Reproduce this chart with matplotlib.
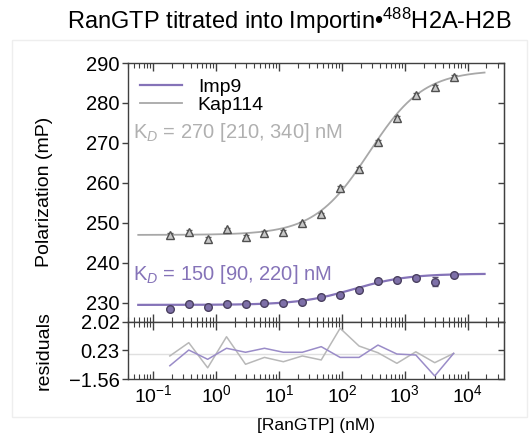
import matplotlib
matplotlib.use('Agg')
import matplotlib.pyplot as plt
import matplotlib.ticker as mticker
from matplotlib.patches import Rectangle
import numpy as np

plt.rcParams['font.family'] = ['Liberation Sans', 'DejaVu Sans']
plt.rcParams['mathtext.fontset'] = 'custom'
plt.rcParams['mathtext.rm'] = 'Liberation Sans'
plt.rcParams['mathtext.it'] = 'Liberation Sans:italic'

# concentraciones de RanGTP (nM), diluciones 1:2
ran_nm = [0.183, 0.366, 0.732, 1.46, 2.93, 5.86, 11.72, 23.44,
          46.88, 93.75, 187.5, 375, 750, 1500, 3000, 6000]

# polarizacion medida (mP)
kap114_mp = [247.0, 247.8, 246.0, 248.4, 246.6, 247.6, 247.8, 249.9,
             252.2, 258.7, 263.5, 270.3, 276.3, 282.0, 284.1, 286.6]
kap114_err = [0.4, 0.4, 0.6, 0.4, 0.5, 0.4, 0.4, 0.4,
              0.4, 0.5, 0.4, 0.4, 0.4, 0.4, 0.4, 0.4]
imp9_mp = [228.5, 229.6, 229.0, 229.8, 229.6, 230.0, 229.9, 230.3,
           231.5, 232.0, 233.2, 235.5, 235.7, 236.3, 235.3, 237.0]
imp9_err = [0.4, 0.4, 0.4, 0.4, 0.4, 0.4, 0.4, 0.4,
            0.5, 0.4, 0.4, 0.4, 0.4, 0.4, 1.2, 0.4]

# residuos del ajuste
kap114_res = [-0.12, 0.71, -0.86, 1.08, -0.64, -0.21, -0.48, -0.12,
              -0.37, 1.61, 0.50, 0.08, -0.58, 0.14, -0.54, 0.04]
imp9_res = [-0.73, 0.25, -0.33, 0.36, 0.11, 0.36, 0.11, 0.11,
            0.46, -0.21, -0.21, 0.56, 0.00, -0.06, -1.37, 0.04]

# parametros de ajuste (fondo, tope, Kd)
kap114_fit = (247.0, 288.2, 270.0)
imp9_fit = (229.5, 237.3, 150.0)

purple = '#8573b8'
gray = '#a8a8a8'


def curva(x, fondo, tope, kd):
    return fondo + (tope - fondo) * x / (kd + x)


fig = plt.figure(figsize=(5.32, 4.36), dpi=100)
fig.patches.append(Rectangle((12 / 532, 1 - 417 / 436), 515 / 532, 377 / 436,
                             transform=fig.transFigure, fill=False,
                             edgecolor='#eeeeee', linewidth=1))

ax1 = fig.add_axes([0.2406, 0.2622, 0.7068, 0.5933])
ax2 = fig.add_axes([0.2406, 0.1307, 0.7068, 0.1315], sharex=ax1)

xs = np.logspace(-1.24, 4.27, 300)
ax1.plot(xs, curva(xs, *imp9_fit), color=purple, lw=1.6, label='Imp9')
ax1.plot(xs, curva(xs, *kap114_fit), color=gray, lw=1.3, label='Kap114')
ax1.errorbar(ran_nm, kap114_mp, yerr=kap114_err, fmt='^', ms=5.5,
             mfc='#c8c8c8', mec='#505050', mew=1.0, ecolor='#606060',
             elinewidth=0.8, capsize=2)
ax1.errorbar(ran_nm, imp9_mp, yerr=imp9_err, fmt='o', ms=5.5,
             mfc='#7e70a8', mec='#4a4060', mew=1.0, ecolor='#5a5070',
             elinewidth=0.8, capsize=2)

ax1.text(0.047, 272.6, r'K$_{\mathit{D}}$ = 270 [210, 340] nM', color='#b0b0b0',
         fontsize=14.5, va='center')
ax1.text(0.047, 237.2, r'K$_{\mathit{D}}$ = 150 [90, 220] nM', color=purple,
         fontsize=14.5, va='center')

ax1.set_xscale('log')
ax1.set_xlim(0.0395, 38000)
ax1.set_ylim(225.3, 290)
ax1.set_yticks([230, 240, 250, 260, 270, 280, 290])
ax1.set_ylabel('Polarization (mP)', fontsize=14)
ax1.yaxis.set_label_coords(-0.2, 0.5)
ax1.legend(loc='upper left', frameon=False, fontsize=14, handlelength=2.2,
           handletextpad=0.8, labelspacing=0.0, borderaxespad=0.0,
           bbox_to_anchor=(0.01, 0.97))

ax2.axhline(0, color='#e0e0e0', lw=1)
ax2.plot(ran_nm, kap114_res, color='#b8b8b8', lw=1.1)
ax2.plot(ran_nm, imp9_res, color='#9a8cc8', lw=1.1)
ax2.set_ylim(-1.56, 2.02)
ax2.set_yticks([-1.56, 0.23, 2.02])
ax2.set_yticklabels(['\u22121.56', '0.23', '2.02'])
ax2.set_ylabel('residuals', fontsize=14)
ax2.yaxis.set_label_coords(-0.2, 0.5)
ax2.set_xlabel('[RanGTP] (nM)', fontsize=12.5, labelpad=8)

for ax in (ax1, ax2):
    for s in ax.spines.values():
        s.set_color('#404040')
        s.set_linewidth(1.0)
    ax.xaxis.set_major_locator(mticker.LogLocator(base=10, numticks=20))
    ax.xaxis.set_minor_locator(mticker.LogLocator(base=10, subs=np.arange(2, 10), numticks=20))
    ax.xaxis.set_minor_formatter(mticker.NullFormatter())
    ax.tick_params(axis='x', which='both', direction='in', top=True, bottom=True,
                   color='#404040')
    ax.tick_params(axis='x', which='major', length=6, width=1.0)
    ax.tick_params(axis='x', which='minor', length=3.5, width=0.8)
    ax.tick_params(axis='y', direction='out', length=4, width=1.0,
                   color='#404040', labelsize=14.5, pad=2)
    sec = ax.secondary_yaxis('right')
    sec.set_yticks(ax.get_yticks())
    sec.tick_params(direction='in', length=4, width=1.0, color='#404040', labelright=False)
    sec.spines['right'].set_color('#404040')

ax1.tick_params(axis='x', labelbottom=False)
ax2.tick_params(axis='x', labelsize=14, pad=4)

fig.text(0.543, 0.952, 'RanGTP titrated into Importin\u2022$^{\\mathrm{488}}$H2A-H2B',
         ha='center', va='center', fontsize=17)

fig.savefig('out.png', dpi=100)
